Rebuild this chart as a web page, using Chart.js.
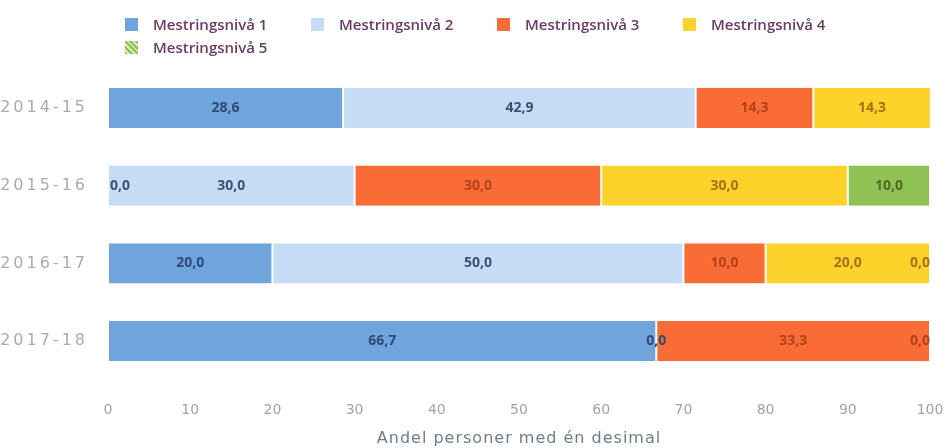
<!DOCTYPE html>
<html>
<head>
<meta charset="utf-8">
<script src="https://cdn.jsdelivr.net/npm/chart.js@4"></script>
<style>
  body { margin: 0; background: #fff; }
  #wrap { position: relative; width: 944px; height: 448px; }
  #legend { position: absolute; left: 125px; top: 13px; width: 800px; font: 600 15px "Open Sans", sans-serif; color: #6b3a66; }
  .item { display: inline-block; width: 186px; height: 23px; line-height: 23px; white-space: nowrap; }
  .box { display: inline-block; width: 13px; height: 13px; margin-right: 15px; vertical-align: -1px; }
</style>
</head>
<body>
<div id="wrap">
  <canvas id="chart" width="944" height="448"></canvas>
  <div id="legend"></div>
</div>
<script>
const years = ['2014-15', '2015-16', '2016-17', '2017-18'];
const seriesNames = ['Mestringsnivå 1', 'Mestringsnivå 2', 'Mestringsnivå 3', 'Mestringsnivå 4', 'Mestringsnivå 5'];
const level1 = [28.6, 0.0, 20.0, 66.7];
const level2 = [42.9, 30.0, 50.0, 0.0];
const level3 = [14.3, 30.0, 10.0, 33.3];
const level4 = [14.3, 30.0, 20.0, null];
const level5 = [null, 10.0, 0.0, 0.0];
const xTicks = [0, 10, 20, 30, 40, 50, 60, 70, 80, 90, 100];

const colors = ['#6fa4dc', '#c6dcf5', '#f96c35', '#fdd32b', '#8fc155'];
const labelColors = ['#2f4a78', '#3e5076', '#b2431c', '#a8721a', '#4f6a26'];

const allSeries = [level1, level2, level3, level4, level5];

// build the legend by hand so it lines up like the original
const legend = document.getElementById('legend');
seriesNames.forEach((name, i) => {
  const item = document.createElement('span');
  item.className = 'item';
  const box = document.createElement('span');
  box.className = 'box';
  box.style.background = colors[i];
  if (i === 4) {
    box.style.backgroundImage = 'repeating-linear-gradient(45deg, #8fc155 0 2px, #d7ebbd 2px 4px)';
  }
  item.appendChild(box);
  item.appendChild(document.createTextNode(name));
  legend.appendChild(item);
});

// wider letter spacing on the category labels and axis title
const spacing = {
  id: 'spacing',
  afterLayout(chart) {
    const y = chart.scales.y, x = chart.scales.x;
    if (!y._spaced) {
      const drawLabels = y.drawLabels.bind(y);
      y.drawLabels = function (area) {
        const c = this.ctx;
        c.save();
        c.letterSpacing = '3px';
        drawLabels(area);
        c.restore();
      };
      y._spaced = true;
    }
    if (!x._spaced) {
      const drawTitle = x.drawTitle.bind(x);
      x.drawTitle = function () {
        const c = this.ctx;
        c.save();
        c.letterSpacing = '1px';
        drawTitle();
        c.restore();
      };
      x._spaced = true;
    }
  }
};

const barLabels = {
  id: 'barLabels',
  afterDatasetsDraw(chart) {
    const { ctx, chartArea } = chart;
    const metas = chart.data.datasets.map((ds, i) => chart.getDatasetMeta(i));
    ctx.save();
    ctx.font = 'bold 14px "Open Sans", sans-serif';
    ctx.textAlign = 'center';
    ctx.textBaseline = 'middle';
    chart.data.datasets.forEach((ds, i) => {
      metas[i].data.forEach((bar, j) => {
        const v = ds.data[j];
        if (v === null || v === undefined) return;
        const text = v.toFixed(1).replace('.', ',');
        const w = ctx.measureText(text).width;
        let x = (bar.x + bar.base) / 2;
        x = Math.max(chartArea.left + w / 2 + 2, Math.min(chartArea.right - w / 2, x));
        let color = labelColors[i];
        if (v === 0) {
          // empty segment: take the colour of the bar the label sits on
          for (let k = 0; k < metas.length; k++) {
            const other = metas[k].data[j];
            const ov = chart.data.datasets[k].data[j];
            if (!ov || !other) continue;
            if (x >= Math.min(other.x, other.base) && x <= Math.max(other.x, other.base)) {
              color = labelColors[k];
              break;
            }
          }
        }
        ctx.fillStyle = color;
        ctx.fillText(text, x, bar.y);
      });
    });
    ctx.restore();
  }
};

new Chart(document.getElementById('chart').getContext('2d'), {
  type: 'bar',
  data: {
    labels: years,
    datasets: allSeries.map((d, i) => ({
      label: seriesNames[i],
      data: d,
      backgroundColor: colors[i],
      borderColor: '#ffffff',
      borderWidth: { left: 1, right: 1, top: 0, bottom: 0 },
      borderSkipped: false,
      barPercentage: 1,
      categoryPercentage: 0.515
    }))
  },
  options: {
    indexAxis: 'y',
    responsive: false,
    animation: false,
    layout: { padding: { top: 69, right: 0, left: 0, bottom: 0 } },
    plugins: {
      legend: { display: false },
      tooltip: { enabled: false }
    },
    scales: {
      x: {
        stacked: true,
        min: 0,
        max: 100,
        afterBuildTicks: (scale) => { scale.ticks = xTicks.map(v => ({ value: v })); },
        afterFit: (scale) => { scale.height = 68; scale.paddingRight = 14; scale.paddingLeft = 0; },
        grid: { display: false, drawTicks: false },
        border: { display: false },
        ticks: { color: '#a3a3a3', font: { family: 'DejaVu Sans', size: 14 }, padding: 22 },
        title: {
          display: true,
          text: 'Andel personer med én desimal',
          color: '#6f7d8e',
          font: { family: 'DejaVu Sans', size: 16 },
          padding: { top: 0, bottom: 0 }
        }
      },
      y: {
        stacked: true,
        grid: { display: false, drawTicks: false },
        border: { display: false },
        ticks: { color: '#ababab', font: { family: 'DejaVu Sans', size: 16 }, padding: 20 },
        afterFit: (scale) => { scale.width = 108; }
      }
    }
  },
  plugins: [spacing, barLabels]
});
</script>
</body>
</html>
